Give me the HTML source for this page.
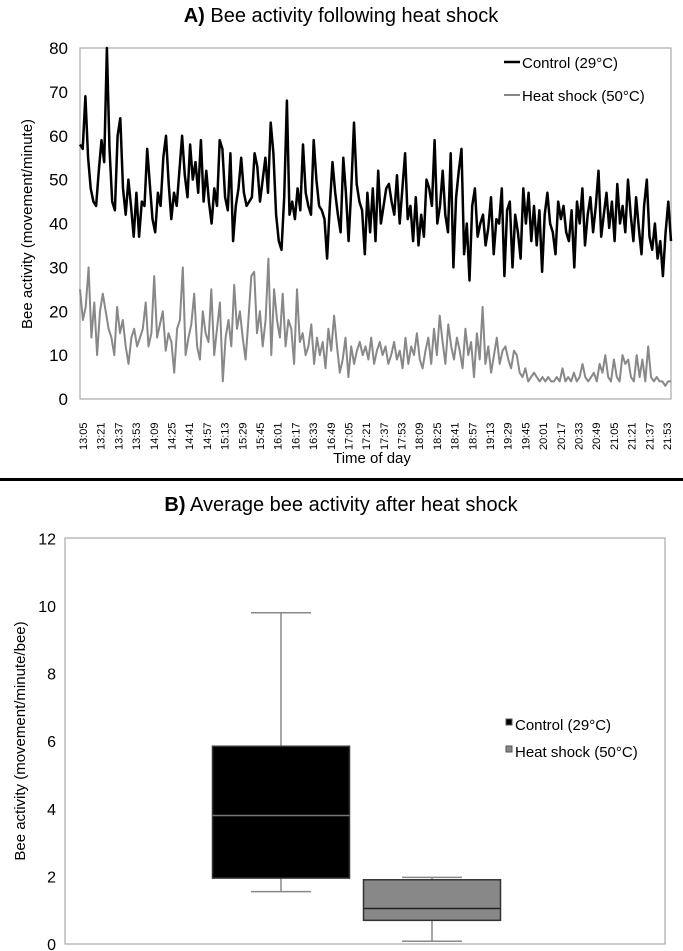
<!DOCTYPE html>
<html><head><meta charset="utf-8"><style>
body{margin:0;background:#fff;width:683px;height:951px;overflow:hidden}
svg{display:block;font-family:"Liberation Sans",sans-serif}
</style></head><body>
<svg id="s" width="683" height="951">
<text x="341" y="22" text-anchor="middle" font-size="20"><tspan font-weight="bold">A)</tspan> Bee activity following heat shock</text>
<rect x="80" y="48" width="591" height="351" fill="none" stroke="#aaa" stroke-width="1.2"/>
<g id="ga"></g>
<text transform="translate(32,224) rotate(-90)" text-anchor="middle" font-size="15">Bee activity (movement/minute)</text>
<text x="372" y="463" text-anchor="middle" font-size="15">Time of day</text>
<g>
<line x1="504" y1="62" x2="520" y2="62" stroke="#000" stroke-width="2.5"/>
<text x="522" y="68" font-size="15">Control (29°C)</text>
<line x1="504" y1="95" x2="520" y2="95" stroke="#888" stroke-width="2"/>
<text x="522" y="101" font-size="15">Heat shock (50°C)</text>
</g>
<rect x="0" y="478" width="683" height="3" fill="#000"/>
<text x="341" y="511" text-anchor="middle" font-size="20"><tspan font-weight="bold">B)</tspan> Average bee activity after heat shock</text>
<rect x="65" y="538" width="600" height="406" fill="none" stroke="#aaa" stroke-width="1.2"/>
<g id="gb"></g>
<text transform="translate(25,741) rotate(-90)" text-anchor="middle" font-size="15">Bee activity (movement/minute/bee)</text>
<g>
<rect x="506" y="719" width="6" height="6" fill="#000" stroke="#555"/>
<text x="515" y="730" font-size="15">Control (29°C)</text>
<rect x="506" y="746" width="6" height="6" fill="#888" stroke="#555"/>
<text x="515" y="757" font-size="15">Heat shock (50°C)</text>
</g>
</svg>
<script>
const control=[58,57,69,55,48,45,44,52,59,54,80,57,45,43,60,64,48,42,50,44,37,47,37,45,44,57,49,41,38,47,44,55,60,49,41,47,44,52,60,51,46,58,50,54,47,59,45,52,45,40,48,44,59,57,46,43,56,36,44,48,55,47,44,45,46,56,53,45,50,55,47,63,56,42,36,34,46,68,42,45,41,48,43,58,47,44,42,59,50,44,43,41,32,44,54,47,42,38,55,47,36,48,63,49,45,43,33,47,38,48,36,52,40,44,48,49,45,42,51,40,48,56,41,44,36,46,35,42,37,50,48,44,59,40,44,52,42,38,56,30,46,52,57,33,40,27,44,48,37,40,42,35,39,46,33,41,40,48,28,43,45,30,42,38,32,48,40,47,36,44,35,43,29,42,47,40,38,33,45,41,44,38,36,43,30,45,40,48,35,42,46,38,44,52,37,42,47,39,45,36,49,40,44,38,50,42,36,46,39,33,44,50,37,34,40,32,36,28,38,45,36];
const heat=[25,18,21,30,14,22,10,20,24,20,16,14,10,21,15,18,12,8,14,16,12,14,16,22,12,15,28,14,17,20,11,15,13,6,16,18,30,10,14,17,24,12,9,20,15,13,25,10,16,22,4,14,18,12,26,16,20,14,9,18,28,29,15,20,12,18,32,10,25,18,14,24,12,18,16,8,25,13,15,10,12,17,8,14,10,13,7,16,11,19,12,6,9,14,5,12,8,11,13,10,12,9,14,8,11,13,10,12,8,10,13,9,11,7,14,8,12,10,15,9,7,11,14,8,16,10,19,13,8,17,12,9,14,11,7,16,10,13,5,15,9,21,8,12,6,10,14,8,11,12,9,7,11,10,6,5,7,4,5,6,5,4,5,4,5,4,4,5,4,7,4,5,4,6,4,5,8,5,4,5,6,4,8,6,10,5,4,9,5,4,10,8,9,5,4,10,5,9,4,12,5,4,5,4,4,3,4,4];
const yTicksA=[0,10,20,30,40,50,60,70,80];
const timeLabels=["13:05","13:21","13:37","13:53","14:09","14:25","14:41","14:57","15:13","15:29","15:45","16:01","16:17","16:33","16:49","17:05","17:21","17:37","17:53","18:09","18:25","18:41","18:57","19:13","19:29","19:45","20:01","20:17","20:33","20:49","21:05","21:21","21:37","21:53"];
const boxGroups=["Control (29°C)","Heat shock (50°C)"];
const boxMin=[1.55,0.08];
const boxQ1=[1.95,0.7];
const boxMed=[3.8,1.05];
const boxQ3=[5.85,1.9];
const boxMax=[9.8,1.97];
const yTicksB=[0,2,4,6,8,10,12];

const NS="http://www.w3.org/2000/svg";
function mk(p,t,a){const e=document.createElementNS(NS,t);for(const k in a)e.setAttribute(k,a[k]);p.appendChild(e);return e;}
const ga=document.getElementById('ga'), gb=document.getElementById('gb');
const yA=v=>399-v*351/80;
const xA=(i,n)=>80+i*591/(n-1);
yTicksA.forEach(v=>{const t=mk(ga,'text',{x:68,y:yA(v)+6,'text-anchor':'end','font-size':17});t.textContent=v;

});
timeLabels.forEach((l,i)=>{const x=83+i*(584/(timeLabels.length-1));const t=mk(ga,'text',{transform:`translate(${x+4},${450}) rotate(-90)`,'font-size':11});t.textContent=l;

});
function line(arr,col,w,name){const d=arr.map((v,i)=>(i?'L':'M')+xA(i,arr.length).toFixed(1)+','+yA(v).toFixed(1)).join('');const p=mk(ga,'path',{d,fill:'none',stroke:col,'stroke-width':w,'stroke-linejoin':'round'});

}
line(heat,'#888',2,'heat-shock-line');
line(control,'#000',2.5,'control-line');

const yB=v=>944-v*33.8;
yTicksB.forEach(v=>{const t=mk(gb,'text',{x:56,y:yB(v)+6,'text-anchor':'end','font-size':16});t.textContent=v;

});
const cx=[281,432], bw=137, cw=60;
boxGroups.forEach((g,i)=>{const fill=i?'#888':'#000';const x=cx[i];
const w1=mk(gb,'line',{x1:x,x2:x,y1:yB(boxMax[i]),y2:yB(boxMin[i]),stroke:'#888','stroke-width':1.5});


[boxMax[i],boxMin[i]].forEach(v=>{const c=mk(gb,'line',{x1:x-cw/2,x2:x+cw/2,y1:yB(v),y2:yB(v),stroke:'#888','stroke-width':1.5});

});
const r=mk(gb,'rect',{x:x-bw/2,y:yB(boxQ3[i]),width:bw,height:yB(boxQ1[i])-yB(boxQ3[i]),fill,stroke:'#333','stroke-width':1.5});


const m=mk(gb,'line',{x1:x-bw/2,x2:x+bw/2,y1:yB(boxMed[i]),y2:yB(boxMed[i]),stroke:i?'#222':'#777','stroke-width':1.5});

});
</script>
</body></html>
